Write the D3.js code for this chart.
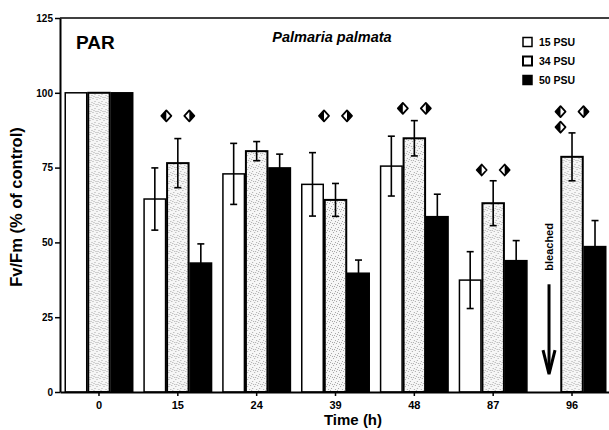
<!DOCTYPE html>
<html><head><meta charset="utf-8">
<script src="https://cdn.jsdelivr.net/npm/d3@7"></script>
<style>
body{margin:0;background:#fff}
svg{display:block}
text{font-family:"Liberation Sans",Arial,Helvetica,sans-serif}
</style></head><body>
<svg id="c" width="609" height="430"></svg>
<script>
// ---- data ----
const times = ["0","15","24","39","48","87","96"];
const series = ["15 PSU","34 PSU","50 PSU"];
const psu15 = [100, 64.5, 72.9, 69.4, 75.5, 37.4, null];
const psu34 = [100, 76.5, 80.5, 64.2, 84.8, 63.1, 78.6];
const psu50 = [100, 43.1, 74.9, 39.7, 58.6, 43.9, 48.6];
const err15 = [0, 10.4, 10.2, 10.6, 10.0, 9.5, null];
const err34 = [0, 8.2, 3.2, 5.5, 5.9, 7.5, 8.0];
const err50 = [0, 6.4, 4.6, 4.4, 7.5, 6.7, 8.7];
const yTicks = [0, 25, 50, 75, 100, 125];
// significance symbols: time, boundary between bars (1 or 2), level (y units), which half black
const markTime  = ["15","15","39","39","48","48","87","87","96","96","96"];
const markSlot  = [1, 2, 1, 2, 1, 2, 1, 2, 1, 2, 1];
const markLevel = [92.3, 92.3, 92.3, 92.3, 94.8, 94.8, 74.2, 74.2, 93.7, 93.7, 88.5];
const markHalf  = ["L","R","L","R","L","R","L","R","L","R","L"];

const values = [psu15, psu34, psu50];
const errors = [err15, err34, err50];

const svg = d3.select("#c");
const defs = svg.append("defs");
const pat = defs.append("pattern").attr("id","dots").attr("patternUnits","userSpaceOnUse")
  .attr("width",7).attr("height",7);
pat.append("rect").attr("width",7).attr("height",7).attr("fill","#f6f6f6");
[[0,0],[4,1],[2,3],[6,4],[1,5],[5,6],[3,6]].forEach(p=>{
  pat.append("rect").attr("x",p[0]).attr("y",p[1]).attr("width",1).attr("height",1).attr("fill","#a8a8a8");
});

const x0 = d3.scaleBand().domain(times).range([60, 611]).paddingInner(0.125).paddingOuter(0.057);
const x1 = d3.scaleBand().domain(series).range([0, x0.bandwidth()]);
const y = d3.scaleLinear().domain([0,125]).range([392,18]);
const fills = ["#ffffff","url(#dots)","#000000"];

// top border
svg.append("line").attr("x1",60).attr("x2",609).attr("y1",y(125)).attr("y2",y(125))
  .attr("stroke","#000").attr("stroke-width",1.5);

// bars
const groups = svg.append("g").selectAll("g").data(times).join("g")
  .attr("transform", d=>`translate(${x0(d)},0)`);
series.forEach((s, si)=>{
  groups.filter((d,i)=>values[si][i]!=null)
    .append("rect")
    .attr("x", x1(s)+0.75)
    .attr("width", x1.bandwidth()-1.5)
    .attr("y", (d)=> y(values[si][times.indexOf(d)]))
    .attr("height", (d)=> y(0)-y(values[si][times.indexOf(d)]))
    .attr("fill", fills[si]).attr("stroke","#000").attr("stroke-width", si===1?2:1.5);
});

// error bars
series.forEach((s, si)=>{
  times.forEach((t, ti)=>{
    const v = values[si][ti], e = errors[si][ti];
    if (v==null || !e) return;
    const cx = x0(t)+x1(s)+x1.bandwidth()/2;
    const g = svg.append("g").attr("stroke","#000").attr("stroke-width",1.6);
    g.append("line").attr("x1",cx).attr("x2",cx).attr("y1",y(v+e)).attr("y2",y(v-e));
    g.append("line").attr("x1",cx-3.5).attr("x2",cx+3.5).attr("y1",y(v+e)).attr("y2",y(v+e));
    g.append("line").attr("x1",cx-3.5).attr("x2",cx+3.5).attr("y1",y(v-e)).attr("y2",y(v-e));
  });
});

// significance diamonds
markTime.forEach((t,i)=>{
  const cx = x0(t) + x1.bandwidth()*markSlot[i];
  const cy = y(markLevel[i]);
  const w = 5, h = 5.5;
  const g = svg.append("g").attr("transform",`translate(${cx},${cy})`);
  g.append("path").attr("d",`M0,${-h}L${w},0L0,${h}L${-w},0Z`).attr("fill","#fff")
    .attr("stroke","#000").attr("stroke-width",1.8).attr("stroke-linejoin","round");
  const half = markHalf[i]==="L" ? `M0,${-h}L${-w},0L0,${h}Z` : `M0,${-h}L${w},0L0,${h}Z`;
  g.append("path").attr("d",half).attr("fill","#000");
});

// axes
const yAxis = svg.append("g").attr("transform","translate(60,0)")
  .call(d3.axisLeft(y).tickValues(yTicks).tickSize(5).tickSizeOuter(0).tickPadding(2));
yAxis.select(".domain").attr("stroke-width",2);
yAxis.selectAll("text").attr("font-size",10).attr("font-weight","bold").attr("fill","#000");
yAxis.selectAll("line").attr("stroke-width",1.5);

const xAxis = svg.append("g").attr("transform","translate(0,392)")
  .call(d3.axisBottom(x0).tickSize(4).tickSizeOuter(0).tickPadding(5));
xAxis.select(".domain").attr("stroke-width",2.2);
xAxis.selectAll("text").attr("font-size",11).attr("font-weight","bold").attr("fill","#000");
xAxis.selectAll("line").attr("stroke-width",1.5);

// titles
svg.append("text").attr("x",76).attr("y",49).attr("font-size",19).attr("font-weight","bold").text("PAR");
svg.append("text").attr("x",332).attr("y",42).attr("text-anchor","middle").attr("font-size",14.5)
  .attr("font-style","italic").attr("font-weight","bold").text("Palmaria palmata");
svg.append("text").attr("x",353).attr("y",425).attr("text-anchor","middle").attr("font-size",15)
  .attr("font-weight","bold").text("Time (h)");
svg.append("text").attr("transform","translate(22,207) rotate(-90)").attr("text-anchor","middle")
  .attr("font-size",16.5).attr("font-weight","bold").text("Fv/Fm (% of control)");

// legend
const leg = svg.append("g");
series.forEach((s,i)=>{
  const cy = 42 + i*19;
  leg.append("rect").attr("x",523).attr("y",cy-4.5).attr("width",9).attr("height",9)
    .attr("fill", i===2 ? "#000" : "#fff").attr("stroke","#000").attr("stroke-width", i===1?2:1.5);
  leg.append("text").attr("x",539).attr("y",cy+4).attr("font-size",10.5).attr("font-weight","bold").text(s);
});

// bleached annotation
const bx = x0("96") + x1("15 PSU") + x1.bandwidth()/2;
svg.append("text").attr("transform",`translate(${bx+4},${y(48.5)}) rotate(-90)`).attr("text-anchor","middle")
  .attr("font-size",11).attr("font-weight","bold").text("bleached");
svg.append("line").attr("x1",bx).attr("x2",bx).attr("y1",y(36)).attr("y2",y(6.5))
  .attr("stroke","#000").attr("stroke-width",3);
svg.append("path").attr("d",`M${bx-6},${y(14)}L${bx},${y(6)}L${bx+6},${y(14)}`)
  .attr("fill","none").attr("stroke","#000").attr("stroke-width",3).attr("stroke-linejoin","miter");
</script>
</body></html>
